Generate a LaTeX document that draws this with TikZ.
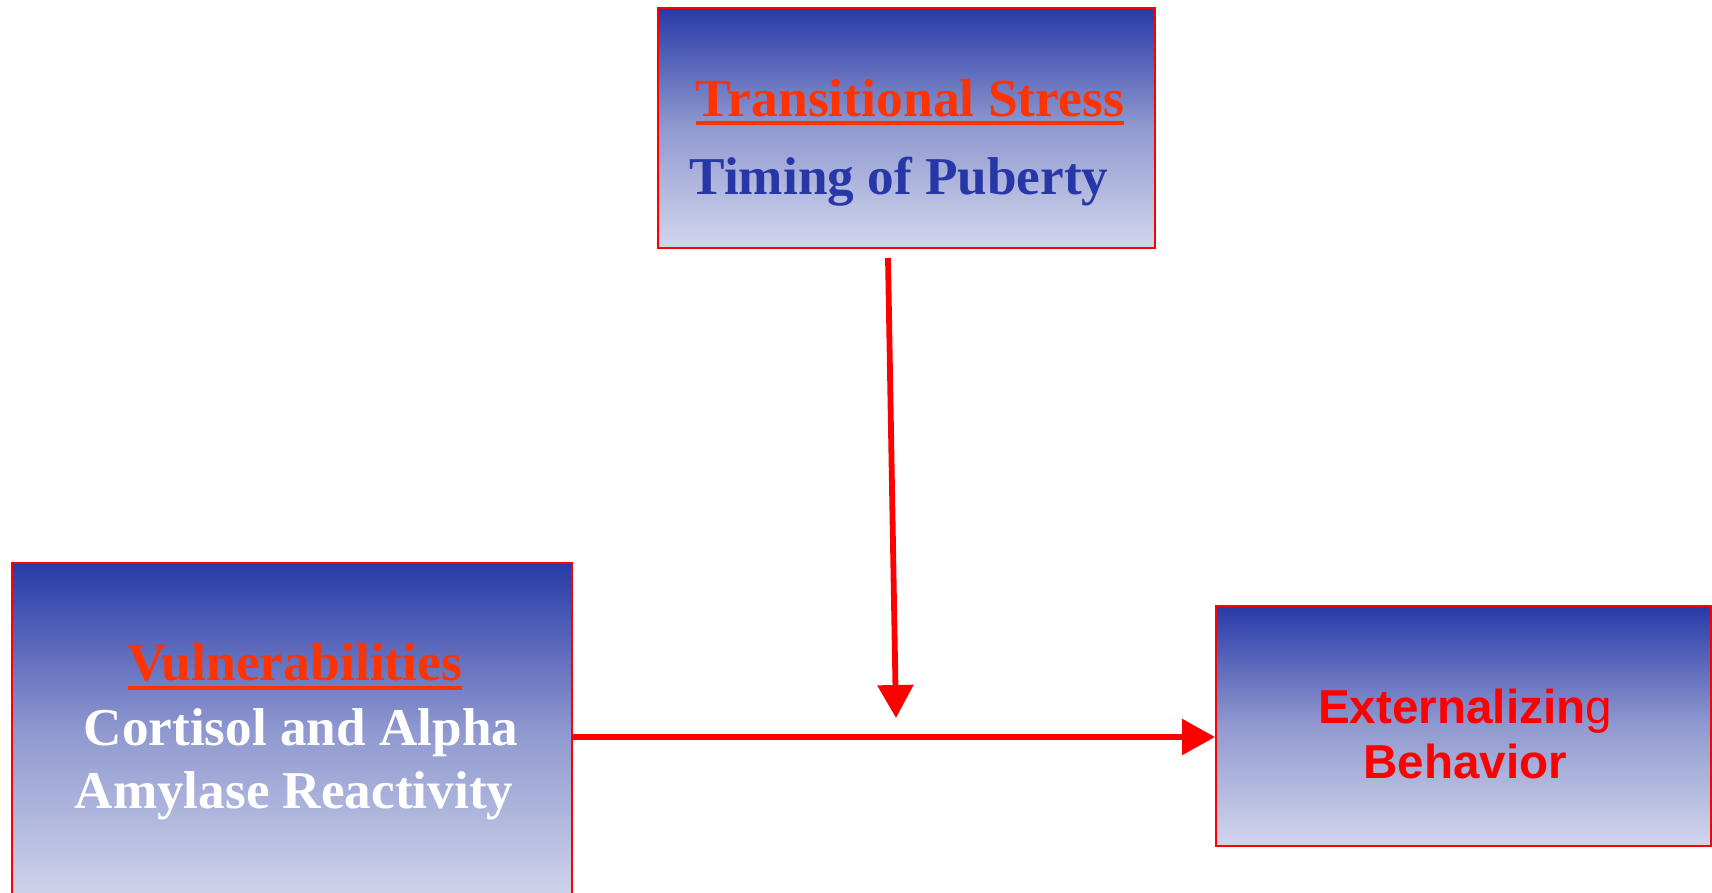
\documentclass[tikz,border=0pt]{standalone}
\usepackage{fontspec}
\setmainfont{Liberation Serif}
\newfontfamily\arialfont{Liberation Sans}
\usetikzlibrary{arrows.meta}
\definecolor{boxtop}{RGB}{40,58,168}
\definecolor{boxmid}{RGB}{145,154,208}
\definecolor{boxbot}{RGB}{210,214,236}
\definecolor{headred}{RGB}{255,51,0}
\definecolor{pureRed}{RGB}{255,0,0}
\definecolor{txtblue}{RGB}{40,55,168}
\begin{document}
\begin{tikzpicture}[x=1pt,y=-1pt,
  gbox/.style={draw=pureRed, line width=2pt, top color=boxtop, bottom color=boxbot, middle color=boxmid, rectangle, inner sep=0pt},
  serifhead/.style={font=\fontsize{53.6}{60}\selectfont\bfseries, text=headred, inner sep=0pt, anchor=base},
  serifbody/.style={font=\fontsize{53.2}{60}\selectfont\bfseries, inner sep=0pt, anchor=base},
  sanshead/.style={font=\arialfont\fontsize{47.6}{54}\selectfont\bfseries, text=pureRed, inner sep=0pt, anchor=base},
  uline/.style={draw=headred, line width=4.5pt},
  arrowline/.style={draw=pureRed, line width=5.8pt, -{Triangle[length=33pt,width=35pt]}}
]
\useasboundingbox (0,0) rectangle (1712,892);
\fill[white] (0,0) rectangle (1712,892);
% boxes
\node[gbox, minimum width=497pt, minimum height=240pt] (topbox) at (906.5,128) {};
\node[gbox, minimum width=560pt, minimum height=342pt] (leftbox) at (292,734) {};
\node[gbox, minimum width=495pt, minimum height=240pt] (rightbox) at (1463.5,726) {};
% top box text
\node[serifhead] (ts) at (910,116) {Transitional Stress};
\draw[uline] ([yshift=-7pt]ts.base west) -- ([yshift=-7pt]ts.base east);
\node[serifbody, text=txtblue] (tp) at (899,194) {Timing of Puberty};
% left box text
\node[serifhead] (vu) at (295,680) {Vulnerabilities};
\draw[uline] ([yshift=-8pt]vu.base west) -- ([yshift=-8pt]vu.base east);
\node[serifbody, text=white] (ca) at (301,745) {Cortisol and Alpha};
\node[serifbody, text=white] (ar) at (294,808) {Amylase Reactivity};
% right box text
\node[sanshead] (ex) at (1465,723) {Externalizin{\mdseries g}};
\node[sanshead] (be) at (1465,778) {Behavior};
% arrows
\coordinate (vstart) at (888,258);
\coordinate (vend) at (896,718);
\draw[arrowline] (vstart) -- (vend);
\draw[arrowline] (leftbox.east |- 0,737) -- (rightbox.west |- 0,737);
\end{tikzpicture}
\end{document}
